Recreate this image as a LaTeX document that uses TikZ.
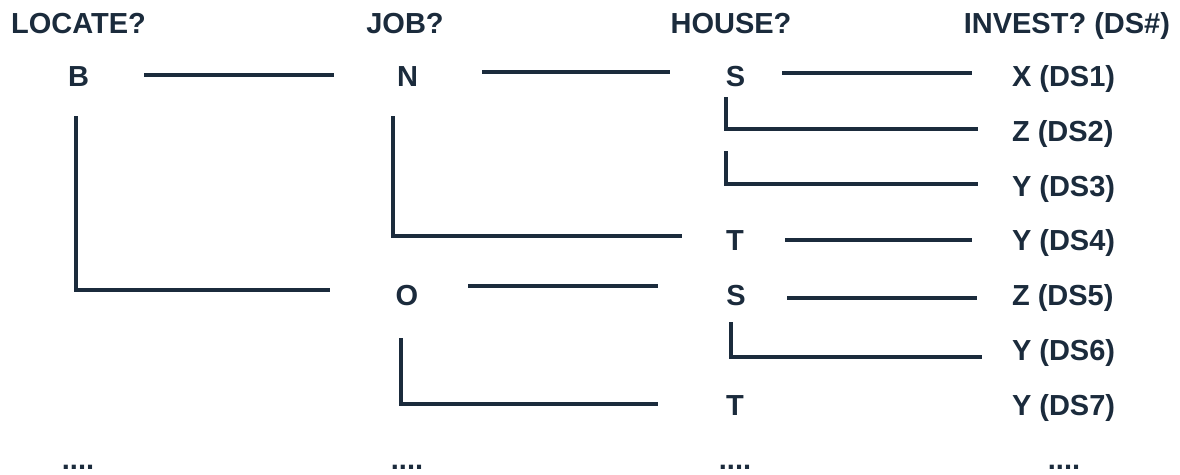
\documentclass[tikz,border=0pt]{standalone}
\usepackage{fontspec}
\setmainfont{Liberation Sans}
\definecolor{navy}{RGB}{27,43,60}
\begin{document}
\begin{tikzpicture}[x=1pt,y=-1pt,
  lbl/.style={inner sep=0pt,outer sep=0pt,text=navy,font=\fontsize{29}{31}\selectfont\bfseries,anchor=base},
  dslbl/.style={lbl,anchor=base west},
  conn/.style={draw=navy,line width=3.6pt}]
\useasboundingbox (0,0) rectangle (1180,474);
% headers
\node[lbl] (h1) at (78.5,33) {LOCATE?};
\node[lbl] (h2) at (405,33) {JOB?};
\node[lbl] (h3) at (731,33) {HOUSE?};
\node[lbl,anchor=base east] (h4) at (1170,33) {INVEST? (DS\#)};
% column 1
\node[lbl] (B) at (78.5,86) {B};
% column 2
\node[lbl] (N) at (407.5,86) {N};
\node[lbl] (O) at (407,305) {O};
% column 3
\node[lbl] (S1) at (735.5,86) {S};
\node[lbl] (T1) at (735,250.5) {T};
\node[lbl] (S2) at (736,305) {S};
\node[lbl] (T2) at (735,415) {T};
% column 4
\node[dslbl] (d1) at (1012,86) {X (DS1)};
\node[dslbl] (d2) at (1012,141) {Z (DS2)};
\node[dslbl] (d3) at (1012,196) {Y (DS3)};
\node[dslbl] (d4) at (1012,250.5) {Y (DS4)};
\node[dslbl] (d5) at (1012,305) {Z (DS5)};
\node[dslbl] (d6) at (1012,360) {Y (DS6)};
\node[dslbl] (d7) at (1012,415) {Y (DS7)};
% dots
\node[lbl] (e1) at (78,469) {....};
\node[lbl] (e2) at (407,469) {....};
\node[lbl] (e3) at (735,469) {....};
\node[lbl] (e4) at (1064,469) {....};
% connector end points
\coordinate (bn1) at (144,75); \coordinate (bn2) at (334,75);
\coordinate (bo1) at (76,116); \coordinate (bo2) at (330,290);
\coordinate (ns1) at (482,72); \coordinate (ns2) at (670,72);
\coordinate (nt1) at (393,116); \coordinate (nt2) at (682,236);
\coordinate (sx1) at (782,73); \coordinate (sx2) at (972,73);
\coordinate (sz1) at (726,97); \coordinate (sz2) at (978,129);
\coordinate (sy1) at (726,151); \coordinate (sy2) at (978,184);
\coordinate (ty1) at (785,240); \coordinate (ty2) at (972,240);
\coordinate (os1) at (468,286); \coordinate (os2) at (658,286);
\coordinate (sz3) at (787,298); \coordinate (sz4) at (977,298);
\coordinate (sy3) at (731,322); \coordinate (sy4) at (982,357);
\coordinate (ot1) at (401,338); \coordinate (ot2) at (658,404);
% connectors
\draw[conn] (bn1) -- (bn2);
\draw[conn] (bo1) |- (bo2);
\draw[conn] (ns1) -- (ns2);
\draw[conn] (nt1) |- (nt2);
\draw[conn] (sx1) -- (sx2);
\draw[conn] (sz1) |- (sz2);
\draw[conn] (sy1) |- (sy2);
\draw[conn] (ty1) -- (ty2);
\draw[conn] (os1) -- (os2);
\draw[conn] (sz3) -- (sz4);
\draw[conn] (sy3) |- (sy4);
\draw[conn] (ot1) |- (ot2);
\end{tikzpicture}
\end{document}
